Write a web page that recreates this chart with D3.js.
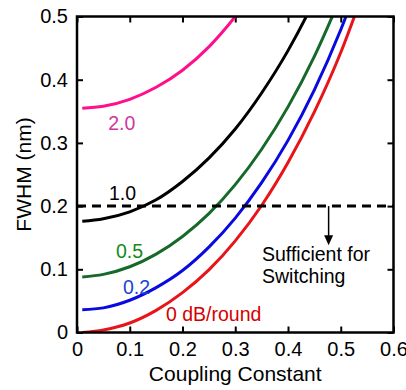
<!DOCTYPE html>
<html>
<head>
<meta charset="utf-8">
<script src="https://cdn.jsdelivr.net/npm/d3@7"></script>
<style>
  html, body { margin: 0; padding: 0; background: #fff; }
  svg { display: block; }
  text { font-family: "Liberation Sans", Arial, sans-serif; }
</style>
</head>
<body>
<svg id="chart" width="406" height="390"></svg>
<script>
// Coupling constant samples shared by every loss curve
const coupling = [0.01, 0.05, 0.10, 0.15, 0.20, 0.25, 0.30, 0.35, 0.40, 0.45, 0.50, 0.55];

// FWHM (nm) for each round-trip loss
const fwhm0dB  = [0.000, 0.004, 0.015, 0.035, 0.063, 0.099, 0.145, 0.201, 0.269, 0.349, 0.443, 0.556];
const fwhm02dB = [0.036, 0.039, 0.051, 0.071, 0.098, 0.135, 0.181, 0.237, 0.304, 0.384, 0.479, 0.591];
const fwhm05dB = [0.088, 0.092, 0.104, 0.124, 0.152, 0.188, 0.234, 0.290, 0.357, 0.437, 0.532, 0.640];
const fwhm1dB  = [0.176, 0.180, 0.191, 0.210, 0.239, 0.276, 0.322, 0.379, 0.446, 0.526, 0.620, 0.730];
const fwhm2dB  = [0.355, 0.358, 0.369, 0.388, 0.415, 0.452, 0.500, 0.557, 0.625, 0.706, 0.800, 0.910];

const lossLabels = ["0 dB/round", "0.2", "0.5", "1.0", "2.0"];

// Switching threshold and its arrow
const threshold = 0.2;
const arrowAt = 0.477;
const arrowTip = 0.138;

const xTicks = [0, 0.1, 0.2, 0.3, 0.4, 0.5, 0.6];
const yTicks = [0, 0.1, 0.2, 0.3, 0.4, 0.5];

const series = [
  { values: fwhm0dB,  line: "#e8141a", text: "#d40000", label: lossLabels[0], lx: 166,   ly: 321,   anchor: "start"  },
  { values: fwhm02dB, line: "#0a0ae0", text: "#1a44d4", label: lossLabels[1], lx: 136.5, ly: 293.5, anchor: "middle" },
  { values: fwhm05dB, line: "#16692a", text: "#138a1a", label: lossLabels[2], lx: 129.5, ly: 257.5, anchor: "middle" },
  { values: fwhm1dB,  line: "#000000", text: "#000000", label: lossLabels[3], lx: 122.5, ly: 199.5, anchor: "middle" },
  { values: fwhm2dB,  line: "#ff0f8c", text: "#d0379c", label: lossLabels[4], lx: 121.7, ly: 129.5, anchor: "middle" }
];

const svg = d3.select("#chart");
const plotLeft = 77, plotRight = 393.5, plotTop = 16.5, plotBottom = 332.5;

const x = d3.scaleLinear().domain([0, 0.6]).range([plotLeft, plotRight]);
const y = d3.scaleLinear().domain([0, 0.5]).range([plotBottom, plotTop]);

const fmt = d => d === 0 ? "0" : d3.format(".1f")(d);
const fontSize = "19.5px";
const tickFont = "20px";

// Clip region for the curves
svg.append("defs").append("clipPath").attr("id", "plot-clip")
  .append("rect").attr("x", plotLeft).attr("y", plotTop)
  .attr("width", plotRight - plotLeft).attr("height", plotBottom - plotTop);

// Axes with inward ticks on all four sides
const tickLen = -6;
function styleAxis(g) {
  g.select(".domain").remove();
  g.selectAll(".tick line").attr("stroke", "#000").attr("stroke-width", 2);
  g.selectAll(".tick text").attr("fill", "#000").style("font-size", tickFont)
    .style("font-family", "'Liberation Sans', Arial, sans-serif");
}
svg.append("g").attr("transform", `translate(0,${plotBottom})`)
  .call(d3.axisBottom(x).tickValues(xTicks).tickFormat(fmt).tickSize(tickLen).tickPadding(9))
  .call(styleAxis);
svg.append("g").attr("transform", `translate(0,${plotTop})`)
  .call(d3.axisTop(x).tickValues(xTicks).tickFormat("").tickSize(tickLen))
  .call(styleAxis);
svg.append("g").attr("transform", `translate(${plotLeft},0)`)
  .call(d3.axisLeft(y).tickValues(yTicks).tickFormat(fmt).tickSize(tickLen).tickPadding(9))
  .call(styleAxis);
svg.append("g").attr("transform", `translate(${plotRight},0)`)
  .call(d3.axisRight(y).tickValues(yTicks).tickFormat("").tickSize(tickLen))
  .call(styleAxis);

// Curves
const line = d3.line()
  .x((d, i) => x(coupling[i]))
  .y(d => y(d))
  .curve(d3.curveMonotoneX);

const curves = svg.append("g").attr("clip-path", "url(#plot-clip)");
series.forEach(s => {
  curves.append("path")
    .attr("d", line(s.values))
    .attr("fill", "none")
    .attr("stroke", s.line)
    .attr("stroke-width", 3);
});

// Curve labels
series.forEach(s => {
  svg.append("text")
    .attr("x", s.lx).attr("y", s.ly)
    .attr("text-anchor", s.anchor)
    .attr("fill", s.text)
    .style("font-size", fontSize)
    .text(s.label);
});

// Threshold line
svg.append("line")
  .attr("x1", x(0)).attr("x2", x(0.6))
  .attr("y1", y(threshold)).attr("y2", y(threshold))
  .attr("stroke", "#000").attr("stroke-width", 3)
  .attr("stroke-dasharray", "9,6");

// Arrow pointing below the threshold
const ax = x(arrowAt), ay0 = y(threshold), ay1 = y(arrowTip);
svg.append("line")
  .attr("x1", ax).attr("x2", ax)
  .attr("y1", ay0).attr("y2", ay1 - 8)
  .attr("stroke", "#000").attr("stroke-width", 1.5);
svg.append("path")
  .attr("d", `M${ax - 4.5},${ay1 - 10} L${ax + 4.5},${ay1 - 10} L${ax},${ay1} Z`)
  .attr("fill", "#000");

// Annotation
const note = svg.append("text").attr("x", 262).attr("fill", "#000").style("font-size", fontSize);
note.append("tspan").attr("x", 262).attr("y", 261).text("Sufficient for");
note.append("tspan").attr("x", 262).attr("y", 282.5).text("Switching");

// Plot frame
svg.append("rect")
  .attr("x", plotLeft).attr("y", plotTop)
  .attr("width", plotRight - plotLeft).attr("height", plotBottom - plotTop)
  .attr("fill", "none").attr("stroke", "#000").attr("stroke-width", 2.5);

// Axis titles
svg.append("text")
  .attr("x", (plotLeft + plotRight) / 2).attr("y", 381)
  .attr("text-anchor", "middle").attr("fill", "#000")
  .style("font-size", "21px")
  .text("Coupling Constant");
svg.append("text")
  .attr("transform", `translate(31,${(plotTop + plotBottom) / 2}) rotate(-90)`)
  .attr("text-anchor", "middle").attr("fill", "#000")
  .style("font-size", "21px")
  .text("FWHM (nm)");
</script>
</body>
</html>
